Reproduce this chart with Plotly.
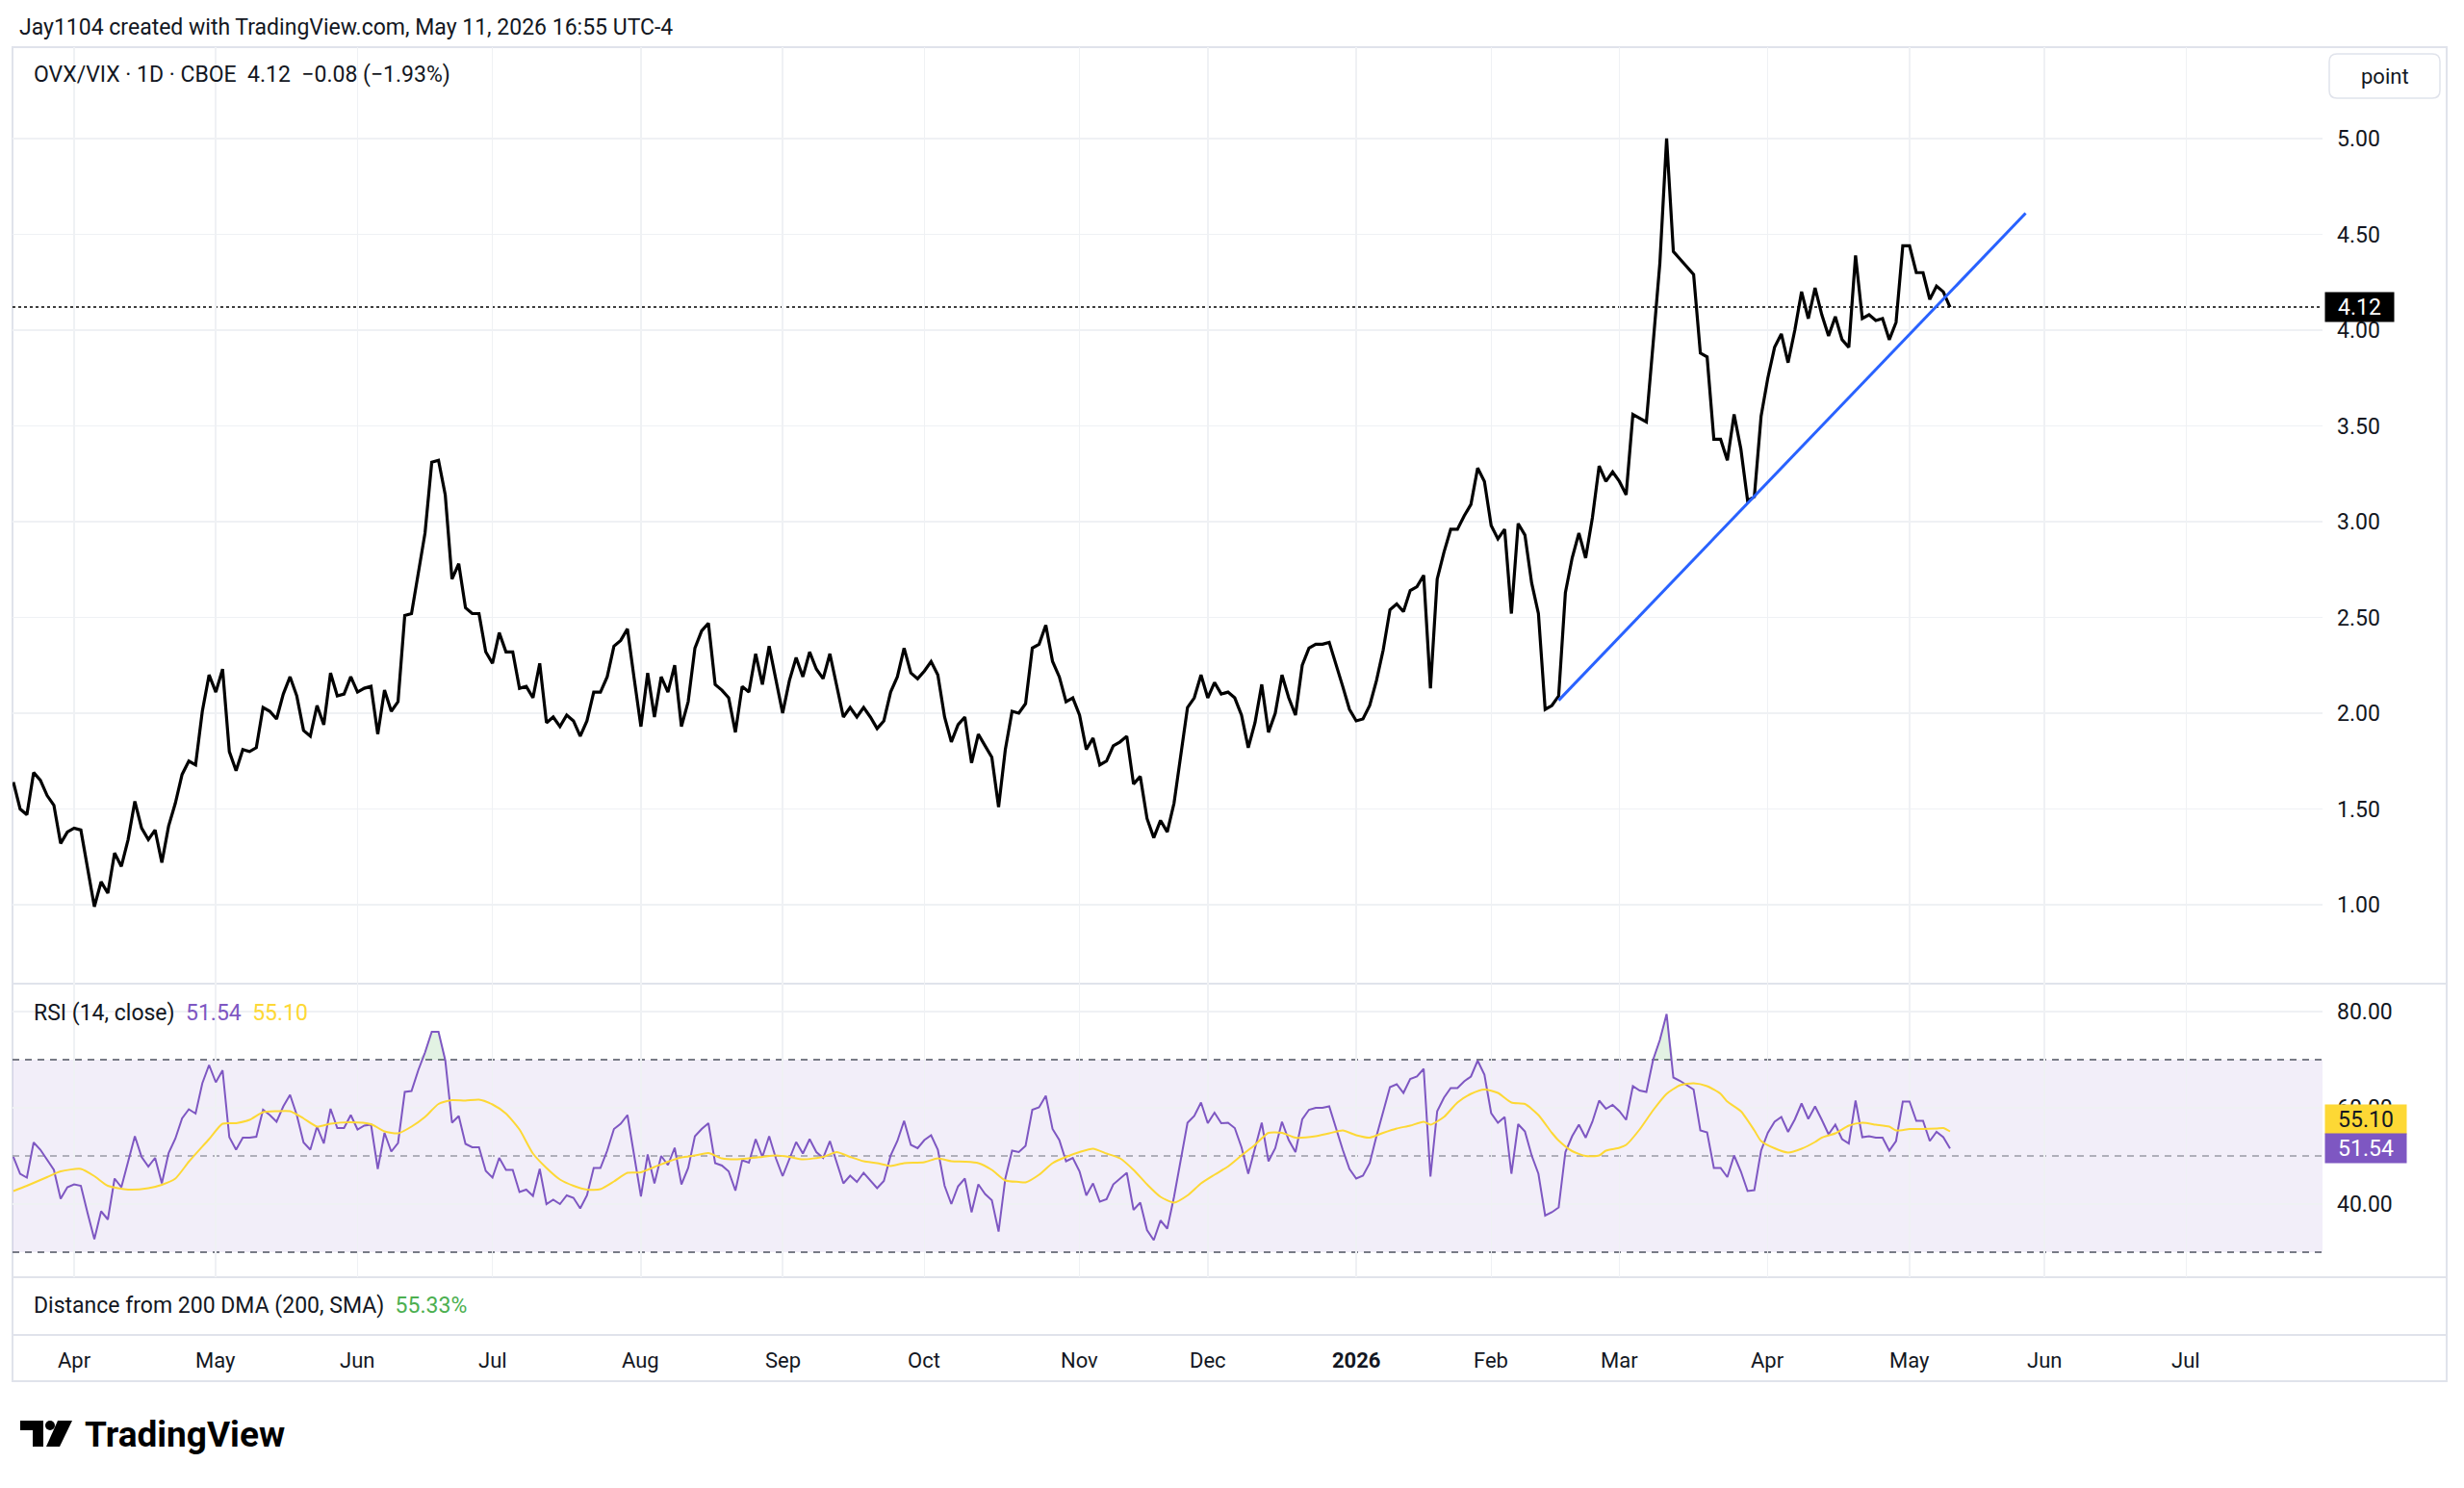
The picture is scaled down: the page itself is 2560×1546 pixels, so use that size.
import plotly.graph_objects as go

W, H = 2560, 1546

# ---------------- data ----------------
close = [
    1.64, 1.50, 1.47, 1.69, 1.65, 1.57, 1.52, 1.32, 1.38, 1.40,
    1.39, 1.18, 0.99, 1.12, 1.06, 1.27, 1.20, 1.34, 1.54, 1.40,
    1.34, 1.39, 1.22, 1.41, 1.53, 1.68, 1.75, 1.73, 2.01, 2.20,
    2.11, 2.23, 1.80, 1.70, 1.81, 1.80, 1.82, 2.03, 2.01, 1.97,
    2.10, 2.19, 2.09, 1.91, 1.88, 2.04, 1.94, 2.21, 2.09, 2.10,
    2.19, 2.11, 2.13, 2.14, 1.89, 2.12, 2.01, 2.06, 2.51, 2.52,
    2.73, 2.94, 3.31, 3.32, 3.14, 2.70, 2.78, 2.55, 2.52, 2.52,
    2.32, 2.26, 2.42, 2.32, 2.32, 2.13, 2.14, 2.08, 2.26, 1.95,
    1.98, 1.93, 1.99, 1.96, 1.88, 1.96, 2.11, 2.11, 2.19, 2.35,
    2.38, 2.44, 2.18, 1.93, 2.21, 1.98, 2.19, 2.11, 2.25, 1.93,
    2.06, 2.34, 2.43, 2.47, 2.15, 2.12, 2.08, 1.90, 2.14, 2.11,
    2.31, 2.15, 2.35, 2.18, 2.00, 2.17, 2.29, 2.19, 2.32, 2.23,
    2.18, 2.31, 2.14, 1.98, 2.03, 1.98, 2.03, 1.98, 1.92, 1.96,
    2.11, 2.19, 2.34, 2.21, 2.18, 2.22, 2.27, 2.20, 1.98, 1.85,
    1.94, 1.98, 1.74, 1.89, 1.83, 1.77, 1.51, 1.81, 2.01, 2.00,
    2.05, 2.34, 2.36, 2.46, 2.27, 2.19, 2.06, 2.08, 1.99, 1.81,
    1.87, 1.73, 1.75, 1.83, 1.85, 1.88, 1.63, 1.67, 1.45, 1.35,
    1.44, 1.38, 1.53, 1.77, 2.03, 2.08, 2.20, 2.08, 2.16, 2.10,
    2.11, 2.08, 1.99, 1.82, 1.95, 2.15, 1.90, 2.00, 2.20, 2.08,
    1.99, 2.25, 2.34, 2.36, 2.36, 2.37, 2.26, 2.14, 2.02, 1.96,
    1.97, 2.04, 2.17, 2.33, 2.54, 2.57, 2.53, 2.64, 2.66, 2.72,
    2.13, 2.70, 2.84, 2.96, 2.96, 3.03, 3.09, 3.28, 3.21, 2.98,
    2.91, 2.96, 2.52, 2.99, 2.93, 2.68, 2.52, 2.02, 2.04, 2.09,
    2.63, 2.81, 2.94, 2.81, 3.02, 3.29, 3.21, 3.26, 3.21, 3.14,
    3.56, 3.54, 3.52, 3.93, 4.35, 5.00, 4.41, 4.37, 4.33, 4.29,
    3.88, 3.86, 3.43, 3.43, 3.32, 3.56, 3.38, 3.11, 3.13, 3.55,
    3.75, 3.91, 3.98, 3.83, 4.00, 4.20, 4.06, 4.22, 4.08, 3.97,
    4.07, 3.95, 3.91, 4.39, 4.06, 4.08, 4.05, 4.06, 3.95, 4.04,
    4.44, 4.44, 4.30, 4.30, 4.16, 4.23, 4.20, 4.12,
]

rsi = [
    49.8, 46.3, 45.5, 52.8, 51.3, 49.1, 47.1, 41.1, 43.5, 44.1,
    43.8, 38.1, 32.7, 38.5, 36.8, 45.3, 43.5, 48.8, 54.1, 49.8,
    47.8, 49.6, 44.3, 50.6, 53.6, 57.8, 59.7, 58.8, 65.1, 68.9,
    65.3, 67.8, 53.9, 51.3, 53.8, 53.8, 54.0, 59.6, 58.5, 57.1,
    60.3, 62.7, 58.5, 52.8, 51.3, 56.1, 52.6, 59.8, 55.8, 55.8,
    58.5, 55.5, 56.3, 56.5, 47.3, 54.8, 50.9, 52.7, 63.3, 63.5,
    67.8, 71.5, 75.8, 75.8, 69.9, 56.9, 58.3, 52.5, 51.8, 51.8,
    46.9, 45.5, 49.6, 47.1, 47.1, 42.5, 43.0, 41.7, 47.3, 40.0,
    40.9, 40.0, 41.8, 41.3, 39.1, 41.8, 47.5, 47.5, 51.1, 55.6,
    56.7, 58.5, 50.1, 41.6, 50.3, 44.3, 50.0, 48.1, 51.7, 44.1,
    47.5, 54.1, 55.6, 56.8, 48.5, 48.0, 46.8, 42.8, 49.1, 48.6,
    53.5, 49.8, 54.1, 49.5, 45.8, 49.5, 52.9, 50.5, 53.5, 50.8,
    49.6, 53.1, 48.8, 44.3, 45.9, 44.6, 46.5, 44.8, 43.3, 44.8,
    50.1, 53.1, 57.3, 52.3, 51.6, 53.3, 54.3, 51.3, 43.8, 40.0,
    43.7, 45.3, 38.3, 44.1, 42.1, 40.8, 34.3, 45.3, 51.1, 50.8,
    52.1, 59.6, 60.1, 62.5, 55.6, 53.3, 48.9, 49.6, 46.8, 41.8,
    44.3, 40.5, 41.0, 44.1, 45.3, 46.5, 38.8, 40.3, 34.6, 32.5,
    36.6, 34.9, 41.5, 49.5, 56.9, 58.3, 61.1, 56.8, 59.0, 56.8,
    56.9, 55.8, 51.8, 46.3, 51.5, 56.9, 48.9, 51.6, 57.1, 53.3,
    50.8, 57.6, 59.6, 60.0, 60.0, 60.3, 55.8, 51.3, 47.3, 45.3,
    45.9, 48.5, 54.1, 59.1, 64.3, 64.9, 63.1, 66.0, 66.5, 68.1,
    45.7, 59.3, 62.1, 64.1, 64.1, 65.5, 66.5, 69.8, 66.9, 58.9,
    56.9, 58.1, 46.3, 56.6, 55.1, 50.1, 46.3, 37.6, 38.3, 39.3,
    50.8, 54.1, 56.5, 53.8, 57.1, 61.5, 59.8, 60.6, 59.3, 57.5,
    64.5, 63.6, 63.3, 70.0, 74.1, 79.5, 66.3, 65.6, 64.7, 63.8,
    55.3, 54.9, 47.5, 47.5, 45.6, 50.1, 46.8, 42.7, 42.9, 51.1,
    54.8, 57.1, 58.1, 55.0, 57.6, 60.9, 57.7, 60.3, 57.5, 54.5,
    56.5, 53.5, 52.6, 61.5, 53.9, 54.1, 53.8, 53.8, 51.1, 53.1,
    61.3, 61.3, 57.3, 57.3, 53.1, 55.0, 53.9, 51.54,
]

# RSI moving average (yellow), read at selected bars
rsi_ma_idx = [
    0, 2, 5, 7, 10, 12, 14, 17, 20, 22, 24, 26, 29, 31, 33, 35, 37, 39, 41, 43,
    45, 47, 50, 53, 55, 57, 59, 61, 63, 65, 67, 69, 71, 73, 75, 77, 79, 81, 83, 85,
    87, 89, 91, 93, 95, 97, 99, 101, 103, 105, 107, 109, 111, 113, 115, 117, 120, 122, 124, 126,
    128, 130, 132, 135, 137, 139, 141, 143, 145, 147, 149, 150, 152, 154, 156, 158, 160, 162, 164, 166,
    168, 170, 172, 174, 176, 178, 180, 182, 184, 186, 188, 190, 193, 195, 197, 199, 201, 203, 205, 207,
    209, 210, 212, 214, 216, 218, 220, 222, 224, 226, 228, 229, 231, 233, 235, 236, 238, 239, 241, 243,
    245, 247, 249, 251, 253, 254, 256, 258, 259, 261, 263, 265, 267, 268, 270, 272, 274, 276, 278, 279,
    281, 283, 285, 286, 287,
]
rsi_ma_val = [
    42.7, 43.8, 45.6, 46.8, 47.3, 45.8, 43.8, 43.0, 43.3, 44.0, 45.3, 48.8, 53.5, 56.7, 56.8, 57.5, 59.1, 59.3, 59.3, 57.8,
    56.1, 56.7, 57.0, 56.6, 55.1, 54.7, 56.1, 58.1, 60.8, 61.6, 61.5, 61.7, 60.7, 58.8, 55.5, 50.5, 47.5, 45.1, 43.8, 43.0,
    43.1, 44.7, 46.5, 46.6, 47.7, 48.8, 49.7, 50.1, 50.6, 49.5, 49.3, 49.5, 49.8, 50.1, 49.8, 49.3, 49.8, 50.8, 49.8, 48.9,
    48.5, 47.9, 48.5, 48.7, 49.5, 48.9, 48.8, 48.5, 47.1, 44.9, 44.6, 44.5, 46.1, 48.5, 49.8, 50.8, 51.5, 50.5, 49.5, 47.1,
    44.1, 41.5, 40.3, 41.8, 44.3, 46.1, 47.8, 50.1, 52.3, 54.8, 54.8, 53.8, 54.1, 54.7, 55.3, 54.3, 53.8, 54.8, 55.7, 56.3,
    57.1, 56.5, 58.1, 61.1, 62.9, 63.8, 63.1, 61.1, 60.8, 58.5, 54.8, 53.2, 51.0, 50.0, 50.1, 51.1, 51.7, 52.3, 55.5, 59.5,
    62.9, 64.7, 65.1, 64.5, 62.9, 61.3, 59.3, 55.3, 53.1, 51.6, 50.7, 51.5, 52.9, 53.8, 54.7, 56.3, 56.9, 56.5, 56.1, 55.3,
    55.6, 55.6, 55.7, 55.8, 55.10,
]

# hand-drawn trend line (two anchor points: bar index, value)
trend_idx = [229, 298.2]
trend_val = [2.067, 4.61]

month_idx = [9, 30, 51, 71, 93, 114, 135, 158, 177, 199, 219, 238, 260, 281, 301, 322]
month_lbl = ["Apr", "May", "Jun", "Jul", "Aug", "Sep", "Oct", "Nov", "Dec", "<b>2026</b>",
             "Feb", "Mar", "Apr", "May", "Jun", "Jul"]

price_ticks = [1.0, 1.5, 2.0, 2.5, 3.0, 3.5, 4.0, 4.5, 5.0]
rsi_ticks = [40, 60, 80]
rsi_upper, rsi_mid, rsi_lower = 70, 50, 30

header_text = "Jay1104 created with TradingView.com, May 11, 2026 16:55 UTC-4"
title_text = "OVX/VIX · 1D · CBOE\u00a0\u00a04.12\u00a0\u00a0−0.08 (−1.93%)"
dist_value = "55.33%"

# ---------------- styling ----------------
FONT = "Roboto"
TXT = "#131722"
GRID = "#eff1f4"
FRAME = "#e0e3eb"
PURPLE = "#7E57C2"
YELLOW = "#FDD835"
BLUE = "#2962FF"


def px(x):
    return x / W


def py(y):
    return 1 - y / H


x_bars = list(range(len(close)))
x_range = [-0.13, 342.2]

fig = go.Figure()

# main price line
fig.add_trace(go.Scatter(x=x_bars, y=close, mode="lines",
                         line=dict(color="#000000", width=3.2),
                         xaxis="x", yaxis="y", hoverinfo="skip"))
# trend line
fig.add_trace(go.Scatter(x=trend_idx, y=trend_val, mode="lines",
                         line=dict(color=BLUE, width=3),
                         xaxis="x", yaxis="y", hoverinfo="skip"))

# RSI overbought fill
fig.add_trace(go.Scatter(x=x_bars, y=[rsi_upper] * len(rsi), mode="lines",
                         line=dict(width=0, color="rgba(0,0,0,0)"),
                         xaxis="x2", yaxis="y2", hoverinfo="skip"))
fig.add_trace(go.Scatter(x=x_bars, y=[max(v, rsi_upper) for v in rsi], mode="lines",
                         line=dict(width=0, color="rgba(0,0,0,0)"),
                         fill="tonexty", fillcolor="rgba(76,175,80,0.16)",
                         xaxis="x2", yaxis="y2", hoverinfo="skip"))
# RSI
fig.add_trace(go.Scatter(x=x_bars, y=rsi, mode="lines",
                         line=dict(color=PURPLE, width=2),
                         xaxis="x2", yaxis="y2", hoverinfo="skip"))
# RSI MA
fig.add_trace(go.Scatter(x=rsi_ma_idx, y=rsi_ma_val, mode="lines",
                         line=dict(color=YELLOW, width=2, shape="spline", smoothing=0.6),
                         xaxis="x2", yaxis="y2", hoverinfo="skip"))

x_dom = [px(13), px(2413)]
main_dom = [py(1022), py(49)]
rsi_dom = [py(1327), py(1022)]

common_x = dict(range=x_range, tickvals=month_idx, showline=False, zeroline=False,
                ticks="", fixedrange=True, showticklabels=False,
                showgrid=True, gridcolor=GRID, gridwidth=1.5)

fig.update_layout(
    width=W, height=H, autosize=False,
    margin=dict(l=0, r=0, t=0, b=0),
    paper_bgcolor="white", plot_bgcolor="rgba(0,0,0,0)",
    showlegend=False,
    font=dict(family=FONT, color=TXT, size=22),
    xaxis=dict(domain=x_dom, anchor="y", **common_x),
    xaxis2=dict(domain=x_dom, anchor="y2", matches="x", **common_x),
    yaxis=dict(domain=main_dom, anchor="x", range=[0.588, 5.477], side="right",
               tickvals=price_ticks, ticktext=[f"{v:.2f}" for v in price_ticks],
               showgrid=True, gridcolor=GRID, gridwidth=1.5, zeroline=False, ticks="",
               ticklabelstandoff=14, tickfont=dict(size=23, color=TXT, family=FONT),
               fixedrange=True),
    yaxis2=dict(domain=rsi_dom, anchor="x2", range=[24.8, 85.8], side="right",
                tickvals=rsi_ticks, ticktext=[f"{v:.2f}" for v in rsi_ticks],
                showgrid=True, gridcolor=GRID, gridwidth=1.5, zeroline=False, ticks="",
                ticklabelstandoff=14, tickfont=dict(size=23, color=TXT, family=FONT),
                fixedrange=True),
)

shapes = []
# outer frame and pane separators
shapes.append(dict(type="rect", xref="paper", yref="paper", x0=px(13), x1=px(2542),
                   y0=py(1435), y1=py(49), line=dict(color=FRAME, width=2),
                   fillcolor="rgba(0,0,0,0)", layer="below"))
for sep in (1022, 1327, 1387):
    shapes.append(dict(type="line", xref="paper", yref="paper", x0=px(13), x1=px(2542),
                       y0=py(sep), y1=py(sep), line=dict(color=FRAME, width=2), layer="below"))

# RSI band
shapes.append(dict(type="rect", xref="x2 domain", yref="y2", x0=0, x1=1,
                   y0=rsi_lower, y1=rsi_upper, fillcolor="rgba(126,87,194,0.10)",
                   line=dict(width=0), layer="below"))
for lvl, col in ((rsi_upper, "#787B86"), (rsi_lower, "#787B86"),
                 (rsi_mid, "rgba(120,123,134,0.55)")):
    shapes.append(dict(type="line", xref="x2 domain", yref="y2", x0=0, x1=1,
                       y0=lvl, y1=lvl, line=dict(color=col, width=2, dash="7px,6px"),
                       layer="below"))

# last price dotted line
shapes.append(dict(type="line", xref="x domain", yref="y", x0=0, x1=1,
                   y0=close[-1], y1=close[-1],
                   line=dict(color="#000000", width=1.6, dash="dot"), layer="below"))

# "point" button (rounded box)
bx0, bx1, by0, by1, r = 2420, 2535, 56, 102, 8
path = (f"M {px(bx0 + r)},{py(by0)} L {px(bx1 - r)},{py(by0)} "
        f"Q {px(bx1)},{py(by0)} {px(bx1)},{py(by0 + r)} L {px(bx1)},{py(by1 - r)} "
        f"Q {px(bx1)},{py(by1)} {px(bx1 - r)},{py(by1)} L {px(bx0 + r)},{py(by1)} "
        f"Q {px(bx0)},{py(by1)} {px(bx0)},{py(by1 - r)} L {px(bx0)},{py(by0 + r)} "
        f"Q {px(bx0)},{py(by0)} {px(bx0 + r)},{py(by0)} Z")
shapes.append(dict(type="path", xref="paper", yref="paper", path=path,
                   line=dict(color=FRAME, width=1.5), fillcolor="white", layer="above"))

# TradingView logo glyph
LOGO = "#000000"
shapes.append(dict(type="rect", xref="paper", yref="paper", x0=px(21), x1=px(45),
                   y0=py(1486), y1=py(1476), fillcolor=LOGO, line=dict(width=0),
                   layer="above"))
shapes.append(dict(type="rect", xref="paper", yref="paper", x0=px(34), x1=px(45),
                   y0=py(1503), y1=py(1476), fillcolor=LOGO, line=dict(width=0),
                   layer="above"))
shapes.append(dict(type="circle", xref="paper", yref="paper", x0=px(47), x1=px(57),
                   y0=py(1486), y1=py(1476), fillcolor=LOGO, line=dict(width=0),
                   layer="above"))
shapes.append(dict(type="path", xref="paper", yref="paper",
                   path=f"M {px(60)},{py(1476)} L {px(75)},{py(1476)} L {px(62)},{py(1503)} "
                        f"L {px(48)},{py(1503)} Z",
                   fillcolor=LOGO, line=dict(width=0), layer="above"))

fig.update_layout(shapes=shapes)

ann = []
ann.append(dict(xref="paper", yref="paper", x=px(18), y=py(28), xanchor="left",
                yanchor="middle", text=header_text, showarrow=False,
                font=dict(size=23, color=TXT, family=FONT)))
ann.append(dict(xref="paper", yref="paper", x=px(33), y=py(77), xanchor="left",
                yanchor="middle", text=title_text, showarrow=False,
                font=dict(size=23, color=TXT, family=FONT)))
ann.append(dict(xref="paper", yref="paper", x=px((bx0 + bx1) / 2), y=py((by0 + by1) / 2),
                xanchor="center", yanchor="middle", text="point", showarrow=False,
                font=dict(size=22, color=TXT, family=FONT)))
ann.append(dict(xref="paper", yref="paper", x=px(33), y=py(1052), xanchor="left",
                yanchor="middle", showarrow=False,
                text=(f"RSI (14, close)\u00a0\u00a0<span style='color:{PURPLE}'>{rsi[-1]:.2f}</span>"
                      f"\u00a0\u00a0<span style='color:{YELLOW}'>{rsi_ma_val[-1]:.2f}</span>"),
                font=dict(size=23, color=TXT, family=FONT)))
ann.append(dict(xref="paper", yref="paper", x=px(33), y=py(1356), xanchor="left",
                yanchor="middle", showarrow=False,
                text=(f"Distance from 200 DMA (200, SMA)\u00a0\u00a0"
                      f"<span style='color:#4CAF50'>{dist_value}</span>"),
                font=dict(size=23, color=TXT, family=FONT)))
# time-axis labels (month starts, placed on the shared bar-index scale)
for mi, ml in zip(month_idx, month_lbl):
    ann.append(dict(xref="x", yref="paper", x=mi, y=py(1413), xanchor="center",
                    yanchor="middle", text=ml, showarrow=False,
                    font=dict(size=22, color=TXT, family=FONT)))
# last price label
ann.append(dict(xref="paper", yref="y", x=px(2415), y=close[-1], xanchor="left",
                yanchor="middle", text=f"{close[-1]:.2f}", showarrow=False,
                bgcolor="#000000", width=71, height=30, borderpad=0, align="center",
                font=dict(size=23, color="white", family=FONT)))
# RSI value labels
ann.append(dict(xref="paper", yref="y2", x=px(2415), y=rsi_ma_val[-1], yshift=12.5,
                xanchor="left", yanchor="middle", text=f"{rsi_ma_val[-1]:.2f}",
                showarrow=False, bgcolor=YELLOW, width=84, height=30, borderpad=0,
                align="center", font=dict(size=23, color="#131722", family=FONT)))
ann.append(dict(xref="paper", yref="y2", x=px(2415), y=rsi[-1],
                xanchor="left", yanchor="middle", text=f"{rsi[-1]:.2f}",
                showarrow=False, bgcolor=PURPLE, width=84, height=30, borderpad=0,
                align="center", font=dict(size=23, color="white", family=FONT)))
# TradingView wordmark
ann.append(dict(xref="paper", yref="paper", x=px(86), y=py(1490), xanchor="left",
                yanchor="middle", text="<b>TradingView</b>", showarrow=False,
                font=dict(size=37, color="#000000", family=FONT)))
fig.update_layout(annotations=ann)

fig.write_html("out.html", config={"staticPlot": True},
               post_script="document.body.style.margin='0';document.body.style.overflow='hidden';")
